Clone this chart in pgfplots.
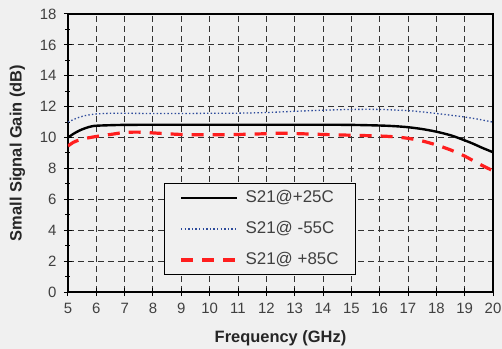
\documentclass[border=0pt]{standalone}
\usepackage{fontspec}
\setmainfont{Liberation Sans}
\usepackage{pgfplots}
\pgfplotsset{compat=1.18}
\definecolor{bg}{RGB}{240,240,240}
\definecolor{myblue}{RGB}{45,75,155}
\definecolor{myred}{RGB}{255,30,30}
\begin{document}
\begin{tikzpicture}
\fill[bg] (-68bp,-57bp) rectangle (434bp,292bp);
\begin{axis}[
  at={(0,0)}, anchor=south west,
  scale only axis, width=425bp, height=278bp,
  xmin=5, xmax=20, ymin=0, ymax=18,
  xtick={5,6,...,20}, ytick={0,2,...,18},
  minor ytick={1,3,...,17},
  grid=major,
  major grid style={black!80, line width=1bp, dash pattern=on 6bp off 4bp},
  axis line style={line width=1.7bp},
  tick style={black, line width=1bp},
  major tick length=8bp, minor tick length=5bp, tick align=center,
  xtick pos=bottom, ytick pos=left,
  ticklabel style={font=\fontsize{15}{18}\selectfont, text=black!75},
  /pgf/number format/assume math mode=true,
  xticklabel style={yshift=-4bp},
  yticklabel style={xshift=-4bp},
  xlabel={Frequency (GHz)}, ylabel={Small Signal Gain (dB)},
  label style={font=\fontsize{16.5}{19}\selectfont\bfseries, text=black!85},
  xlabel style={at={(axis description cs:0.5,-0.1655)}, anchor=center},
  ylabel style={at={(axis description cs:-0.119,0.5)}, anchor=center},
  legend style={at={(axis description cs:0.2259,0.0612)}, anchor=south west,
    fill=bg, draw=black, line width=0.8bp, inner xsep=15bp, inner ysep=5bp,
    font=\fontsize{17}{20}\selectfont, text=black!75,
    nodes={text height=12bp, text depth=3bp, inner sep=2bp},
    row sep=12bp},
  legend cell align=left,
  legend image code/.code={\draw[#1] (0bp,0bp) -- (56bp,0bp); \path (61bp,0bp);},
]
\addplot[black, line width=2.4bp, smooth] coordinates {
(5.0,10.0) (5.2,10.25) (5.4,10.45) (5.6,10.6) (5.9,10.75) (6.5,10.8) (7,10.82)
(8,10.83) (9,10.83) (10,10.83) (11,10.83) (12,10.83) (13,10.83) (14,10.83)
(15,10.82) (16,10.78) (16.5,10.74) (17,10.67) (17.5,10.55) (18,10.38)
(18.5,10.15) (18.9,9.89) (19.3,9.6) (19.6,9.35) (20.0,9.05)};
\addlegendentry{S21@+25C}
\addplot[myblue, line width=1.3bp, dash pattern=on 1.4bp off 2.2bp, smooth] coordinates {
(5.0,11.0) (5.3,11.25) (5.6,11.42) (6.0,11.53) (6.5,11.57) (7,11.57) (8,11.56)
(9,11.56) (10,11.57) (11,11.58) (12,11.62) (13,11.7) (14,11.77) (15,11.82)
(16,11.82) (17,11.74) (17.5,11.66) (18,11.56) (18.5,11.45) (19,11.33)
(19.5,11.18) (20,11.0)};
\addlegendentry{S21@ -55C}
\addplot[myred, line width=3.2bp, dash pattern=on 12bp off 9bp, smooth] coordinates {
(5.0,9.45) (5.2,9.7) (5.5,9.9) (6.0,10.07) (6.5,10.2) (7.0,10.33) (7.5,10.35)
(8,10.3) (9,10.2) (10,10.18) (11,10.2) (12,10.25) (12.5,10.28) (13,10.26)
(14,10.2) (15,10.15) (16,10.1) (16.5,10.05) (17,9.95) (17.5,9.78) (18,9.52)
(18.5,9.2) (19,8.8) (19.5,8.3) (20,7.85)};
\addlegendentry{S21@ +85C}
\end{axis}
\pgfresetboundingbox
\useasboundingbox (-68bp,-57bp) rectangle (434bp,292bp);
\end{tikzpicture}
\end{document}
